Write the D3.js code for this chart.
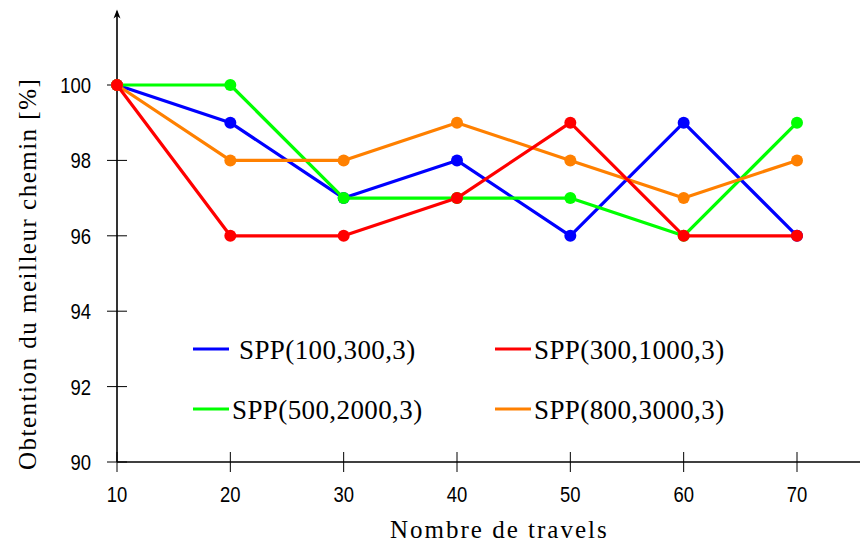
<!DOCTYPE html>
<html>
<head>
<meta charset="utf-8">
<script src="https://cdn.jsdelivr.net/npm/d3@7/dist/d3.min.js"></script>
<style>
  html, body { margin: 0; padding: 0; background: #fff; }
  svg { display: block; }
  .tick-label { font-family: "Liberation Sans", "DejaVu Sans", sans-serif; font-size: 22px; fill: #000; }
  .serif { font-family: "Liberation Serif", "DejaVu Serif", serif; fill: #000; }
</style>
</head>
<body>
<svg id="chart" width="860" height="547"></svg>
<script>
// Number of travels on the x axis
const travels = [10, 20, 30, 40, 50, 60, 70];

// Percentage of runs that found the best path, per configuration
const spp100 = [100, 99, 97, 98, 96, 99, 96];
const spp300 = [100, 96, 96, 97, 99, 96, 96];
const spp500 = [100, 100, 97, 97, 97, 96, 99];
const spp800 = [100, 98, 98, 99, 98, 97, 98];

const seriesNames = ["SPP(100,300,3)", "SPP(300,1000,3)", "SPP(500,2000,3)", "SPP(800,3000,3)"];
const seriesColors = ["#0000ff", "#ff0000", "#00ff00", "#ff8000"];

const yTicks = [90, 92, 94, 96, 98, 100];
const xTicks = [10, 20, 30, 40, 50, 60, 70];

const series = [
  { name: seriesNames[0], color: seriesColors[0], values: spp100 },
  { name: seriesNames[1], color: seriesColors[1], values: spp300 },
  { name: seriesNames[2], color: seriesColors[2], values: spp500 },
  { name: seriesNames[3], color: seriesColors[3], values: spp800 }
];
// stacking order of the curves (later is on top)
const drawOrder = [0, 2, 3, 1];

const svg = d3.select("#chart");

const x = d3.scaleLinear().domain([10, 70]).range([117, 797]);
const y = d3.scaleLinear().domain([90, 100]).range([462, 85]);

// Axes
const axes = svg.append("g");
axes.append("line")
  .attr("x1", x(10)).attr("x2", 860)
  .attr("y1", y(90)).attr("y2", y(90))
  .attr("stroke", "#000").attr("stroke-width", 1.6);
axes.append("line")
  .attr("x1", x(10)).attr("x2", x(10))
  .attr("y1", y(90)).attr("y2", y(102) + 2)
  .attr("stroke", "#000").attr("stroke-width", 1.6);
axes.append("path")
  .attr("d", `M${x(10)},${y(102)} L${x(10) - 3.5},${y(102) + 9} L${x(10)},${y(102) + 6.5} L${x(10) + 3.5},${y(102) + 9} Z`)
  .attr("fill", "#000");

// condensed look for the numeric tick labels
const squeeze = 0.84;

yTicks.forEach(v => {
  axes.append("line")
    .attr("x1", x(10) - 10).attr("x2", x(10) + 10)
    .attr("y1", y(v)).attr("y2", y(v))
    .attr("stroke", "#000").attr("stroke-width", 1);
  axes.append("text")
    .attr("class", "tick-label")
    .attr("transform", `translate(${x(10) - 26},${y(v)}) scale(${squeeze},1)`)
    .attr("dy", "0.36em")
    .attr("text-anchor", "end")
    .text(v);
});
xTicks.forEach(v => {
  axes.append("line")
    .attr("x1", x(v)).attr("x2", x(v))
    .attr("y1", y(90) - 10).attr("y2", y(90) + 10)
    .attr("stroke", "#000").attr("stroke-width", 1);
  axes.append("text")
    .attr("class", "tick-label")
    .attr("transform", `translate(${x(v)},${y(90) + 40}) scale(${squeeze},1)`)
    .attr("text-anchor", "middle")
    .text(v);
});

// Curves
const line = d3.line().x((d, i) => x(travels[i])).y(d => y(d));
const plot = svg.append("g");
drawOrder.forEach(k => {
  const s = series[k];
  const g = plot.append("g");
  g.append("path")
    .attr("d", line(s.values))
    .attr("fill", "none")
    .attr("stroke", s.color)
    .attr("stroke-width", 3.2)
    .attr("stroke-linejoin", "round");
  g.selectAll("circle")
    .data(s.values)
    .join("circle")
    .attr("cx", (d, i) => x(travels[i]))
    .attr("cy", d => y(d))
    .attr("r", 6)
    .attr("fill", s.color);
});

// Legend
const legendPos = [
  { lx: 193, tx: 239, ty: 349 },
  { lx: 495, tx: 534, ty: 349 },
  { lx: 193, tx: 232, ty: 409 },
  { lx: 495, tx: 534, ty: 409 }
];
const legend = svg.append("g");
series.forEach((s, i) => {
  const p = legendPos[i];
  legend.append("line")
    .attr("x1", p.lx).attr("x2", p.lx + 36)
    .attr("y1", p.ty).attr("y2", p.ty)
    .attr("stroke", s.color).attr("stroke-width", 3.2);
  legend.append("text")
    .attr("class", "serif")
    .attr("x", p.tx).attr("y", p.ty + 10)
    .attr("font-size", 27)
    .attr("letter-spacing", 0.4)
    .text(s.name);
});

// Axis titles
svg.append("text")
  .attr("class", "serif")
  .attr("x", 390).attr("y", 538)
  .attr("font-size", 25)
  .attr("letter-spacing", 2.0)
  .text("Nombre de travels");

svg.append("text")
  .attr("class", "serif")
  .attr("transform", "translate(36,470) rotate(-90)")
  .attr("font-size", 25)
  .attr("letter-spacing", 1.5)
  .text("Obtention du meilleur chemin [%]");
</script>
</body>
</html>
